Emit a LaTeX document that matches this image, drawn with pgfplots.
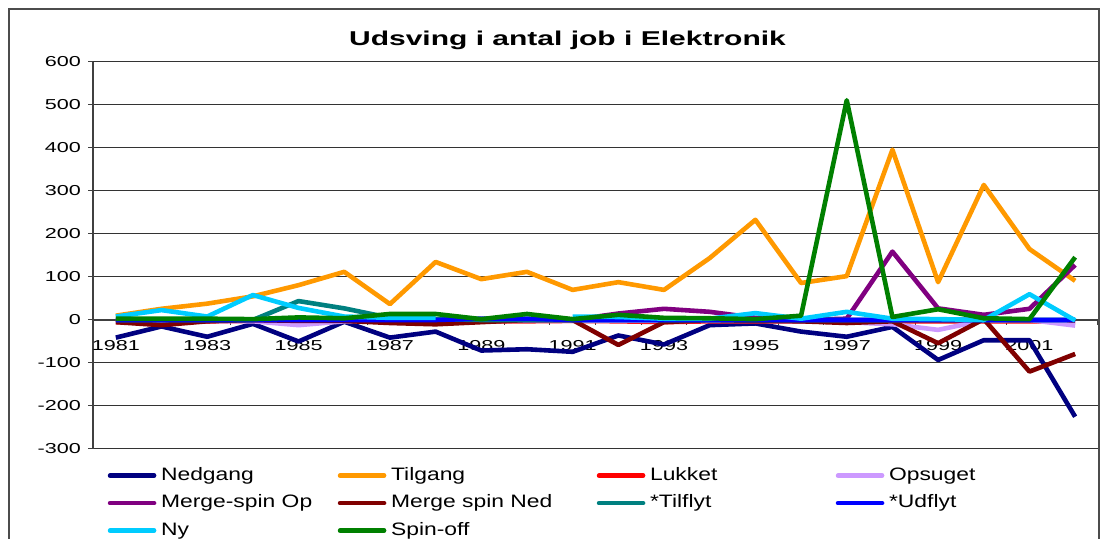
\documentclass[border=0pt]{standalone}
\usepackage{pgfplots}
\pgfplotsset{compat=1.18}
\usepackage{fontspec}
\setmainfont{Liberation Sans}
\newfontfamily\tickfont{Liberation Sans}[FakeStretch=1.5]
\newfontfamily\legfont{Liberation Sans}[FakeStretch=1.27]
\newfontfamily\titfont{Liberation Sans}[FakeStretch=1.5]
\definecolor{cNed}{RGB}{0,0,128}
\definecolor{cTil}{RGB}{255,153,0}
\definecolor{cLuk}{RGB}{255,0,0}
\definecolor{cOps}{RGB}{204,153,255}
\definecolor{cMOp}{RGB}{128,0,128}
\definecolor{cMNed}{RGB}{128,0,0}
\definecolor{cTfl}{RGB}{0,128,128}
\definecolor{cUfl}{RGB}{0,0,255}
\definecolor{cNy}{RGB}{0,204,255}
\definecolor{cSpin}{RGB}{0,128,0}
\begin{document}
\begin{tikzpicture}
\path[use as bounding box] (0,0) rectangle (552.5pt,269.5pt);
\begin{axis}[
  at={(46.5pt,45pt)}, anchor=south west,
  scale only axis, width=502.5pt, height=193.5pt,
  xmin=1980.5, xmax=2002.5, ymin=-300, ymax=600,
  axis y line=left, axis x line=middle,
  axis line style={-, black!75, line width=0.6pt},
  hide obscured y ticks=false, hide obscured x ticks=false,
  ytick={-300,-200,...,600},
  ymajorgrids, grid style={black!80, line width=0.5pt},
  xtick={1980.5,1981.5,...,2002.5}, xticklabels={},
  extra x ticks={1981,1983,...,2001},
  extra x tick labels={1981,1983,1985,1987,1989,1991,1993,1995,1997,1999,2001},
  extra x tick style={major tick length=0pt, grid=none, xticklabel style={yshift=-6.5pt}},
  tick align=outside, major tick length=2.5pt,
  tick style={black!75, line width=0.5pt},
  tick label style={font=\tickfont\fontsize{7.2}{8}\selectfont},
  /pgf/number format/assume math mode=true,
  unbounded coords=jump,
  legend columns=4,
  legend cell align=left,
  legend style={at={(axis description cs:0.0147,-0.047)}, anchor=north west,
    draw=none, fill=none, inner sep=0pt, outer sep=0pt, row sep=5.25pt,
    font=\legfont\fontsize{9}{10}\selectfont,
    nodes={inner sep=0pt, text height=6.5pt, text depth=2pt},
    /tikz/every odd column/.append style={column sep=2.35pt}},
  legend image code/.code={\draw[#1, line width=2.3pt, line cap=round] (1.15pt,0pt) -- (23.15pt,0pt);},
  every axis plot/.append style={line width=2.3pt, line join=round, mark=none},
]
\addplot[cNed] coordinates {(1981,-41) (1982,-15) (1983,-39) (1984,-9) (1985,-50) (1986,-4) (1987,-41) (1988,-27) (1989,-71) (1990,-68) (1991,-74) (1992,-36) (1993,-57) (1994,-12) (1995,-8) (1996,-27) (1997,-39) (1998,-16) (1999,-93) (2000,-47) (2001,-47) (2002,-225)};
\addlegendentry{\makebox[88.35pt][l]{Nedgang}}
\addplot[cTil] coordinates {(1981,10) (1982,26) (1983,38) (1984,55) (1985,81) (1986,112) (1987,37) (1988,135) (1989,95) (1990,112) (1991,70) (1992,88) (1993,70) (1994,144) (1995,233) (1996,86) (1997,102) (1998,396) (1999,88) (2000,314) (2001,165) (2002,91)};
\addlegendentry{\makebox[102.85pt][l]{Tilgang}}
\addplot[cLuk] coordinates {(1981,-5) (1982,-3) (1983,-3) (1984,-2) (1985,-3) (1986,-2) (1987,-3) (1988,-4) (1989,-3) (1990,-3) (1991,-2) (1992,-3) (1993,-5) (1994,-3) (1995,-3) (1996,-3) (1997,-3) (1998,-3) (1999,-3) (2000,-3) (2001,-3) (2002,-3)};
\addlegendentry{\makebox[92.85pt][l]{Lukket}}
\addplot[cOps] coordinates {(1981,0) (1982,-2) (1983,-2) (1984,-3) (1985,-12) (1986,-3) (1987,-2) (1988,-2) (1989,-2) (1990,-2) (1991,-2) (1992,-2) (1993,-2) (1994,-2) (1995,-2) (1996,-3) (1997,-5) (1998,-10) (1999,-23) (2000,-1) (2001,0) (2002,-13)};
\addlegendentry{Opsuget}
\addplot[cMOp] coordinates {(1981,0) (1982,0) (1983,0) (1984,0) (1985,0) (1986,0) (1987,0) (1988,0) (1989,0) (1990,0) (1991,0) (1992,15) (1993,26) (1994,19) (1995,5) (1996,0) (1997,3) (1998,159) (1999,27) (2000,12) (2001,26) (2002,128)};
\addlegendentry{Merge-spin Op}
\addplot[cMNed] coordinates {(1981,-5) (1982,-12) (1983,-3) (1984,0) (1985,-2) (1986,-2) (1987,-7) (1988,-10) (1989,-5) (1990,0) (1991,0) (1992,-58) (1993,-5) (1994,0) (1995,-2) (1996,-3) (1997,-7) (1998,-3) (1999,-54) (2000,2) (2001,-120) (2002,-79)};
\addlegendentry{Merge spin Ned}
\addplot[cTfl] coordinates {(1981,0) (1982,0) (1983,0) (1984,0) (1985,44) (1986,27) (1987,5) (1988,2) (1989,0) (1990,0) (1991,0) (1992,0) (1993,0) (1994,0) (1995,0) (1996,0) (1997,0) (1998,0) (1999,0) (2000,0) (2001,0) (2002,0)};
\addlegendentry{*Tilflyt}
\addplot[cUfl] coordinates {(1981,0) (1982,0) (1983,0) (1984,0) (1985,0) (1986,0) (1987,0) (1988,0) (1989,3) (1990,3) (1991,0) (1992,0) (1993,0) (1994,0) (1995,0) (1996,0) (1997,0) (1998,0) (1999,0) (2000,0) (2001,0) (2002,0)};
\addlegendentry{*Udflyt}
\addplot[cNy] coordinates {(1981,8) (1982,23) (1983,8) (1984,58) (1985,28) (1986,8) (1987,5) (1988,5) (1989,nan) (1990,nan) (1991,8) (1992,7) (1993,3) (1994,3) (1995,16) (1996,3) (1997,19) (1998,3) (1999,2) (2000,0) (2001,60) (2002,-1)};
\addlegendentry{Ny}
\addplot[cSpin] coordinates {(1981,3) (1982,3) (1983,3) (1984,2) (1985,6) (1986,4) (1987,14) (1988,14) (1989,2) (1990,14) (1991,2) (1992,12) (1993,5) (1994,4) (1995,2) (1996,10) (1997,511) (1998,7) (1999,25) (2000,4) (2001,2) (2002,146)};
\addlegendentry{Spin-off}
\end{axis}
\node[font=\titfont\bfseries\fontsize{10}{12}\selectfont] at (283.75pt,249.5pt) {Udsving i antal job i Elektronik};
\draw[black!70, line width=0.9pt] (4.5pt,-2pt) -- (4.5pt,265pt) -- (549.5pt,265pt) -- (549.5pt,-2pt);
\end{tikzpicture}
\end{document}
